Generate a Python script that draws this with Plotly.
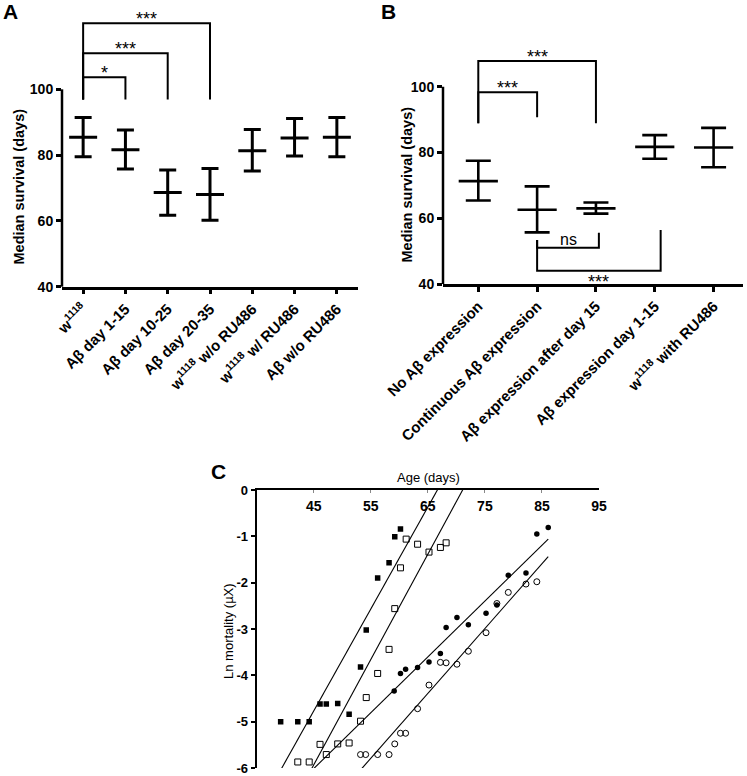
import plotly.graph_objects as go

W, H = 747, 776
FONT = "Liberation Sans, Arial, sans-serif"

# ---------------- Panel A data ----------------
a_cats = ["w<sup>1118</sup>", "Aβ day 1-15", "Aβ day 10-25", "Aβ day 20-35",
          "w<sup>1118</sup> w/o RU486", "w<sup>1118</sup> w/ RU486", "Aβ w/o RU486"]
a_median = [85.4, 81.6, 68.6, 68.0, 81.3, 85.2, 85.4]
a_upper = [91.4, 87.6, 75.5, 75.9, 87.8, 91.1, 91.4]
a_lower = [79.5, 75.8, 61.7, 60.2, 75.2, 79.7, 79.5]
a_yticks = [40, 60, 80, 100]

a_brk_from = [0, 0, 0]
a_brk_to = [1, 2, 3]
a_brk_y = [103.7, 111.0, 120.1]
a_brk_leg_from = [96.9, 96.9, 96.9]
a_brk_leg_to = [96.9, 96.9, 96.9]
a_brk_lbl = ["*", "***", "***"]

# ---------------- Panel B data ----------------
b_cats = ["No Aβ expression", "Continuous Aβ expression", "Aβ expression after day 15",
          "Aβ expression day 1-15", "w<sup>1118</sup> with RU486"]
b_median = [71.3, 62.6, 63.0, 81.7, 81.5]
b_upper = [77.5, 69.7, 64.8, 85.3, 87.5]
b_lower = [65.4, 55.7, 61.4, 78.1, 75.5]
b_yticks = [40, 60, 80, 100]

b_brk_from = [0, 0, 1, 1]
b_brk_to = [2, 1, 2.05, 3.1]
b_brk_y = [107.8, 98.3, 51.0, 44.0]
b_brk_leg_from = [88.9, 88.9, 53.4, 53.4]
b_brk_leg_to = [88.9, 90.7, 55.6, 56.4]
b_brk_lbl = ["***", "***", "ns", "***"]
b_brk_below = [False, False, False, True]

# ---------------- Panel C data ----------------
sq_f_x = [39.2, 42.2, 44.2, 46.1, 47.2, 49.2, 51.2, 53.2, 54.2, 56.2, 58.2, 59.2, 60.2]
sq_f_y = [-5.0, -5.0, -5.0, -4.62, -4.62, -4.61, -4.84, -3.82, -3.02, -1.90, -1.57, -1.01, -0.84]

sq_o_x = [42.2, 44.2, 46.1, 47.2, 49.2, 51.2, 53.2, 54.2, 56.2, 58.2, 59.2, 60.2,
          61.2, 63.2, 65.2, 67.2, 68.2]
sq_o_y = [-5.87, -5.87, -5.49, -5.71, -5.48, -5.46, -4.99, -4.48, -3.96, -3.44, -2.56, -1.68,
          -1.06, -1.17, -1.34, -1.24, -1.14]

ci_f_x = [59.1, 60.2, 61.1, 63.2, 65.2, 67.2, 68.2, 70.1, 72.1, 75.2, 77.1, 79.1, 82.2, 84.1, 86.1]
ci_f_y = [-4.34, -3.96, -3.87, -3.83, -3.71, -3.53, -2.97, -2.75, -2.91, -2.66, -2.48,
          -1.84, -1.79, -0.95, -0.81]

ci_o_x = [53.2, 54.1, 56.2, 58.2, 59.2, 60.2, 61.1, 63.2, 65.2, 67.2, 68.2, 70.1,
          72.1, 75.2, 77.1, 79.1, 82.2, 84.1]
ci_o_y = [-5.71, -5.71, -5.71, -5.71, -5.48, -5.25, -5.25, -4.72, -4.21, -3.72, -3.73, -3.76,
          -3.48, -3.08, -2.45, -2.21, -2.03, -1.98]

# linear fits: slope, intercept, x extent
fit_slope = [0.2200, 0.2273, 0.1205, 0.1400]
fit_icpt = [-14.668, -16.160, -11.435, -13.490]
fit_xmin = [35, 35, 35, 35]
fit_xmax = [70, 75, 86.1, 86.1]

c_xticks = [45, 55, 65, 75, 85, 95]
c_yticks = [0, -1, -2, -3, -4, -5, -6]

# ---------------- geometry helpers ----------------
def fx(p):
    return p / W

def fy(p):
    return 1 - p / H

A_RANGE_Y = [40, 126]
B_RANGE_Y = [40, 112]

fig = go.Figure()

# Panel A
fig.add_trace(go.Scatter(
    x=list(range(len(a_cats))), y=a_median, mode="markers",
    marker=dict(symbol="line-ew", size=20, color="black", line=dict(width=3, color="black")),
    error_y=dict(type="data", symmetric=False,
                 array=[u - m for u, m in zip(a_upper, a_median)],
                 arrayminus=[m - l for m, l in zip(a_median, a_lower)],
                 width=8.5, thickness=3, color="black"),
    xaxis="x", yaxis="y", showlegend=False, hoverinfo="skip"))

# Panel B
fig.add_trace(go.Scatter(
    x=list(range(len(b_cats))), y=b_median, mode="markers",
    marker=dict(symbol="line-ew", size=28, color="black", line=dict(width=2.6, color="black")),
    error_y=dict(type="data", symmetric=False,
                 array=[u - m for u, m in zip(b_upper, b_median)],
                 arrayminus=[m - l for m, l in zip(b_median, b_lower)],
                 width=12.5, thickness=2.6, color="black"),
    xaxis="x2", yaxis="y2", showlegend=False, hoverinfo="skip"))

# Panel C fits
for s, b, x0, x1 in zip(fit_slope, fit_icpt, fit_xmin, fit_xmax):
    fig.add_trace(go.Scatter(x=[x0, x1], y=[s * x0 + b, s * x1 + b], mode="lines",
                             line=dict(color="black", width=1.1),
                             xaxis="x3", yaxis="y3", showlegend=False, hoverinfo="skip"))

fig.add_trace(go.Scatter(x=sq_f_x, y=sq_f_y, mode="markers",
                         marker=dict(symbol="square", size=5.5, color="black"),
                         xaxis="x3", yaxis="y3", showlegend=False))
fig.add_trace(go.Scatter(x=sq_o_x, y=sq_o_y, mode="markers",
                         marker=dict(symbol="square-open", size=6, color="black",
                                     line=dict(width=1)),
                         xaxis="x3", yaxis="y3", showlegend=False))
fig.add_trace(go.Scatter(x=ci_f_x, y=ci_f_y, mode="markers",
                         marker=dict(symbol="circle", size=5.5, color="black"),
                         xaxis="x3", yaxis="y3", showlegend=False))
fig.add_trace(go.Scatter(x=ci_o_x, y=ci_o_y, mode="markers",
                         marker=dict(symbol="circle-open", size=6, color="black",
                                     line=dict(width=1)),
                         xaxis="x3", yaxis="y3", showlegend=False))

shapes = []
annotations = []

# axis lines for A and B (y axis only up to 100)
for xr, yr, rng in [("x domain", "y domain", A_RANGE_Y), ("x2 domain", "y2 domain", B_RANGE_Y)]:
    shapes.append(dict(type="line", xref=xr, yref=yr, x0=0, x1=0, y0=0,
                       y1=(100 - rng[0]) / (rng[1] - rng[0]),
                       line=dict(color="black", width=2.5)))

# brackets A
for f, t, y, l0, l1, lbl in zip(a_brk_from, a_brk_to, a_brk_y, a_brk_leg_from, a_brk_leg_to, a_brk_lbl):
    shapes.append(dict(type="path", xref="x", yref="y",
                       path=f"M {f},{l0} L {f},{y} L {t},{y} L {t},{l1}",
                       line=dict(color="black", width=2)))
    annotations.append(dict(x=(f + t) / 2, y=y, xref="x", yref="y", text=lbl, showarrow=False,
                            yanchor="bottom", yshift=-8, font=dict(size=18, color="black", family=FONT)))

# brackets B
for f, t, y, l0, l1, lbl, below in zip(b_brk_from, b_brk_to, b_brk_y, b_brk_leg_from,
                                       b_brk_leg_to, b_brk_lbl, b_brk_below):
    shapes.append(dict(type="path", xref="x2", yref="y2",
                       path=f"M {f},{l0} L {f},{y} L {t},{y} L {t},{l1}",
                       line=dict(color="black", width=2)))
    if below:
        annotations.append(dict(x=(f + t) / 2, y=y, xref="x2", yref="y2", text=lbl, showarrow=False,
                                yanchor="top", yshift=1, font=dict(size=18, color="black", family=FONT)))
    elif lbl == "ns":
        annotations.append(dict(x=(f + t) / 2, y=y, xref="x2", yref="y2", text=lbl, showarrow=False,
                                yanchor="bottom", yshift=-2, font=dict(size=16, color="black", family=FONT)))
    else:
        annotations.append(dict(x=(f + t) / 2, y=y, xref="x2", yref="y2", text=lbl, showarrow=False,
                                yanchor="bottom", yshift=-8, font=dict(size=18, color="black", family=FONT)))

# panel letters & titles
for txt, px, py in [("A", 10, 12), ("B", 388, 12), ("C", 218, 472)]:
    annotations.append(dict(x=fx(px), y=fy(py), xref="paper", yref="paper", text=txt, showarrow=False,
                            xanchor="center", yanchor="middle",
                            font=dict(size=21, color="black", family=FONT, weight="bold")))

for txt, px, py, bold in [("Median survival (days)", 18.5, 187, True),
                          ("Median survival (days)", 406.5, 185, True),
                          ("Ln mortality (µX)", 228, 631, False)]:
    annotations.append(dict(x=fx(px), y=fy(py), xref="paper", yref="paper", text=txt, showarrow=False,
                            textangle=-90, xanchor="center", yanchor="middle",
                            font=dict(size=14.5 if bold else 13, color="black", family=FONT,
                                      weight="bold" if bold else "normal")))

annotations.append(dict(x=fx(428), y=fy(477), xref="paper", yref="paper", text="Age (days)",
                        showarrow=False, xanchor="center", yanchor="middle",
                        font=dict(size=13, color="black", family=FONT)))

bold_xcat = dict(size=15, color="black", family=FONT, weight="bold")
bold13 = dict(size=13, color="black", family=FONT, weight="bold")
bold14 = dict(size=14, color="black", family=FONT, weight="bold")

common = dict(showgrid=False, zeroline=False, linecolor="black", automargin=False)

fig.update_layout(
    width=W, height=H, margin=dict(l=0, r=0, t=0, b=0, autoexpand=False),
    paper_bgcolor="white", plot_bgcolor="white",
    font=dict(family=FONT, color="black"),
    shapes=shapes, annotations=annotations, showlegend=False,
    xaxis=dict(domain=[fx(62), fx(358)], range=[-0.5, 6.5], anchor="y",
               tickvals=list(range(len(a_cats))), ticktext=a_cats, tickangle=-45,
               ticks="outside", ticklen=5, tickwidth=2.5, tickcolor="black",
               showline=True, linewidth=2.5, tickfont=bold_xcat, **common),
    yaxis=dict(domain=[fy(286.7), fy(3.8)], range=A_RANGE_Y, anchor="x",
               tickvals=a_yticks, ticks="outside", ticklen=5, tickwidth=2.5, tickcolor="black",
               showline=False, tickfont=bold14, **common),
    xaxis2=dict(domain=[fx(443), fx(743)], range=[-0.6, 4.5], anchor="y2",
                tickvals=list(range(len(b_cats))), ticktext=b_cats, tickangle=-45,
                ticks="outside", ticklen=5, tickwidth=2.5, tickcolor="black",
                showline=True, linewidth=2.5, tickfont=bold_xcat, **common),
    yaxis2=dict(domain=[fy(284), fy(47.3)], range=B_RANGE_Y, anchor="x2",
                tickvals=b_yticks, ticks="outside", ticklen=5, tickwidth=2.5, tickcolor="black",
                showline=False, tickfont=bold14, **common),
    xaxis3=dict(domain=[fx(256.7), fx(599)], range=[35, 95], anchor="y3", side="top",
                tickvals=c_xticks, ticks="inside", ticklen=3, tickwidth=1, tickcolor="#888888",
                ticklabelposition="inside", ticklabeloverflow="allow", ticklabelstandoff=8,
                showline=True, linewidth=2.2, tickfont=bold14, **common),
    yaxis3=dict(domain=[fy(768), fy(490)], range=[-6, 0], anchor="x3",
                tickvals=c_yticks, ticktext=[str(v) for v in c_yticks],
                ticks="outside", ticklen=4, tickwidth=1.5, tickcolor="black",
                showline=True, linewidth=2.2, tickfont=bold13, **common),
)

fig.write_html("out.html", config={"displayModeBar": False},
               post_script="document.body.style.margin='0';")
